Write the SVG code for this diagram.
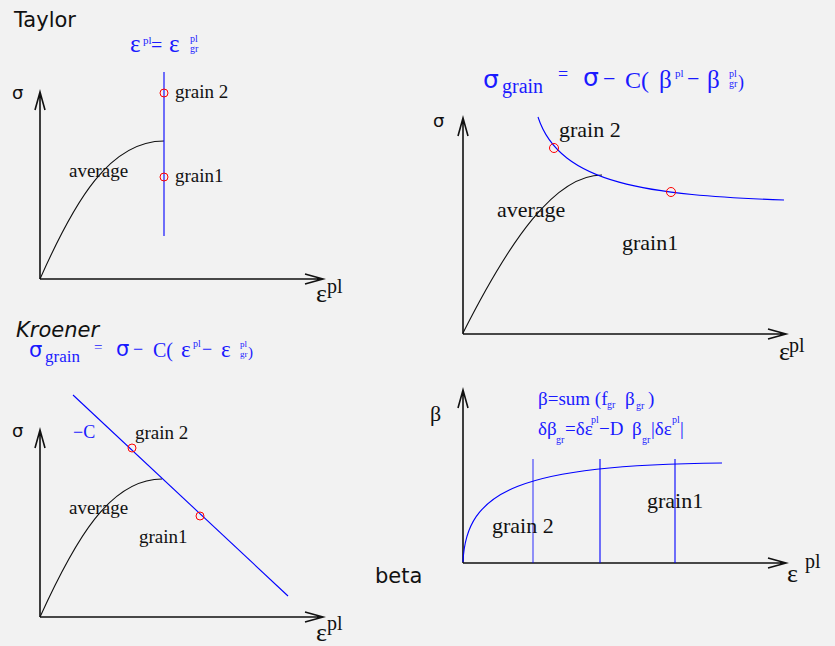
<svg xmlns="http://www.w3.org/2000/svg" width="835" height="646" viewBox="0 0 835 646">
<defs>
<style>
.bg{fill:#f2f2f2}
.ax{fill:none;stroke:#111;stroke-width:1.6}
.cv{fill:none;stroke:#111;stroke-width:1.1}
.bl{fill:none;stroke:#0000ff;stroke-width:1.1}
.rc{fill:none;stroke:#ff0000;stroke-width:1}
.ttl{font-family:"DejaVu Sans","Liberation Sans",sans-serif;font-size:21px;fill:#111}
.sg{font-family:"DejaVu Sans","Liberation Sans",sans-serif;font-size:18px;fill:#111}
.lb{font-family:"Liberation Serif","Times New Roman",serif;font-size:19px;fill:#111}
.lbr{font-family:"Liberation Serif","Times New Roman",serif;font-size:22px;fill:#111}
.xe{font-family:"Liberation Serif","Times New Roman",serif;font-size:20px;fill:#111}
.xg{font-family:"Liberation Serif","Times New Roman",serif;font-size:26px;fill:#111}
.bt{font-family:"Liberation Serif","Times New Roman",serif;fill:#1a1aff}
.bs{font-family:"DejaVu Sans","Liberation Sans",sans-serif;fill:#1a1aff}
</style>
</defs>
<rect class="bg" x="0" y="0" width="835" height="646"/>

<g id="taylor">
<text class="ttl" x="14" y="27">Taylor</text>
<text class="bt" x="130" y="52" font-size="25">ε</text>
<text class="bt" x="143" y="44" font-size="11">pl</text>
<text class="bt" x="151" y="52" font-size="20">=</text>
<text class="bt" x="169" y="52" font-size="25">ε</text>
<text class="bt" x="190" y="42" font-size="10">pl</text>
<text class="bt" x="190" y="52" font-size="10">gr</text>
<path class="ax" d="M40,279 V92 M35,110 L40,92 L45,110 M40,279 H323 M305,274 L323,279 L305,284"/>
<text class="sg" x="12" y="99">σ</text>
<text class="xg" x="316" y="302">ε</text>
<text class="xe" x="327" y="293">pl</text>
<path class="cv" d="M40,279 C75,200 110,141 164,141"/>
<line class="bl" x1="164" y1="72" x2="164" y2="236"/>
<circle class="rc" cx="164" cy="93" r="4"/>
<circle class="rc" cx="164" cy="177" r="4"/>
<text class="lb" x="175" y="98">grain 2</text>
<text class="lb" x="175" y="182">grain1</text>
<text class="lb" x="69" y="177">average</text>
</g>

<g id="stress-beta">
<text class="bs" x="483" y="88" font-size="25">σ</text>
<text class="bt" x="502" y="93" font-size="20">grain</text>
<text class="bt" x="558" y="80" font-size="18">=</text>
<text class="bs" x="583" y="86" font-size="25">σ</text>
<text class="bt" x="603" y="86" font-size="22">−</text>
<text class="bt" x="625" y="88" font-size="24">C(</text>
<text class="bt" x="659" y="88" font-size="25">β</text>
<text class="bt" x="675" y="77" font-size="11">pl</text>
<text class="bt" x="687" y="86" font-size="22">−</text>
<text class="bt" x="707" y="88" font-size="25">β</text>
<text class="bt" x="729" y="77" font-size="10">pl</text>
<text class="bt" x="729" y="87" font-size="10">gr</text>
<text class="bt" x="738" y="88" font-size="18">)</text>
<path class="ax" d="M463,334 V118 M458,136 L463,118 L468,136 M463,334 H786 M768,329 L786,334 L768,339"/>
<text class="sg" x="433" y="127" font-size="20">σ</text>
<text class="xg" x="779" y="360">ε</text>
<text class="xe" x="789" y="352">pl</text>
<path class="cv" d="M463,333 C510,240 555,175 602,175"/>
<path class="bl" d="M538,117 C560,185 650,195 784,200"/>
<circle class="rc" cx="554" cy="148" r="4.5"/>
<circle class="rc" cx="671" cy="192" r="4.5"/>
<text class="lbr" x="559" y="137">grain 2</text>
<text class="lbr" x="497" y="217">average</text>
<text class="lbr" x="622" y="250">grain1</text>
</g>

<g id="kroener">
<text class="ttl" x="16" y="337" font-style="italic">Kroener</text>
<text class="bs" x="29" y="357" font-size="21">σ</text>
<text class="bt" x="45" y="362" font-size="17">grain</text>
<text class="bt" x="94" y="352" font-size="15">=</text>
<text class="bs" x="116" y="356" font-size="21">σ</text>
<text class="bt" x="133" y="355" font-size="18">−</text>
<text class="bt" x="153" y="357" font-size="20">C(</text>
<text class="bt" x="181" y="357" font-size="23">ε</text>
<text class="bt" x="193" y="347" font-size="10">pl</text>
<text class="bt" x="202" y="355" font-size="18">−</text>
<text class="bt" x="221" y="357" font-size="23">ε</text>
<text class="bt" x="240" y="347" font-size="9">pl</text>
<text class="bt" x="240" y="357" font-size="9">gr</text>
<text class="bt" x="248" y="357" font-size="15">)</text>
<path class="ax" d="M40,617 V430 M35,448 L40,430 L45,448 M40,617 H323 M305,612 L323,617 L305,622"/>
<text class="sg" x="12" y="437">σ</text>
<text class="xg" x="316" y="641">ε</text>
<text class="xe" x="327" y="630">pl</text>
<path class="cv" d="M40,617 C75,540 110,479 162,479"/>
<line class="bl" x1="73" y1="395" x2="288" y2="596"/>
<circle class="rc" cx="132" cy="448" r="4"/>
<circle class="rc" cx="200" cy="516" r="4"/>
<text class="bt" x="73" y="438" font-size="18">−C</text>
<text class="lb" x="135" y="439">grain 2</text>
<text class="lb" x="69" y="514">average</text>
<text class="lb" x="139" y="543">grain1</text>
</g>

<g id="beta">
<text class="ttl" x="375" y="583">beta</text>
<text class="bt" x="538" y="405" font-size="19">β=sum (f</text>
<text class="bt" x="607" y="408" font-size="10">gr</text>
<text class="bt" x="625" y="405" font-size="19">β</text>
<text class="bt" x="636" y="409" font-size="10">gr</text>
<text class="bt" x="648" y="405" font-size="19">)</text>
<text class="bt" x="538" y="435" font-size="19">δβ</text>
<text class="bt" x="556" y="443" font-size="10">gr</text>
<text class="bt" x="565" y="435" font-size="19">=δε</text>
<text class="bt" x="591" y="423" font-size="10">pl</text>
<text class="bt" x="599" y="435" font-size="19">−D</text>
<text class="bt" x="632" y="435" font-size="19">β</text>
<text class="bt" x="642" y="443" font-size="10">gr</text>
<text class="bt" x="651" y="435" font-size="19">|δε</text>
<text class="bt" x="672" y="423" font-size="10">pl</text>
<text class="bt" x="680" y="435" font-size="19">|</text>
<path class="ax" d="M463,563 V390 M458,408 L463,390 L468,408 M463,563 H786 M768,558 L786,563 L768,568"/>
<text class="lbr" x="430" y="421">β</text>
<text class="xg" x="787" y="582">ε</text>
<text class="xe" x="805" y="568">pl</text>
<path class="bl" d="M463,562 C466,490 520,465 722,463"/>
<line class="bl" x1="533" y1="459" x2="533" y2="563" stroke-opacity="0.75"/>
<line class="bl" x1="600" y1="459" x2="600" y2="563"/>
<line class="bl" x1="675" y1="459" x2="675" y2="563"/>
<text class="lbr" x="492" y="533">grain 2</text>
<text class="lbr" x="647" y="508">grain1</text>
</g>
</svg>
